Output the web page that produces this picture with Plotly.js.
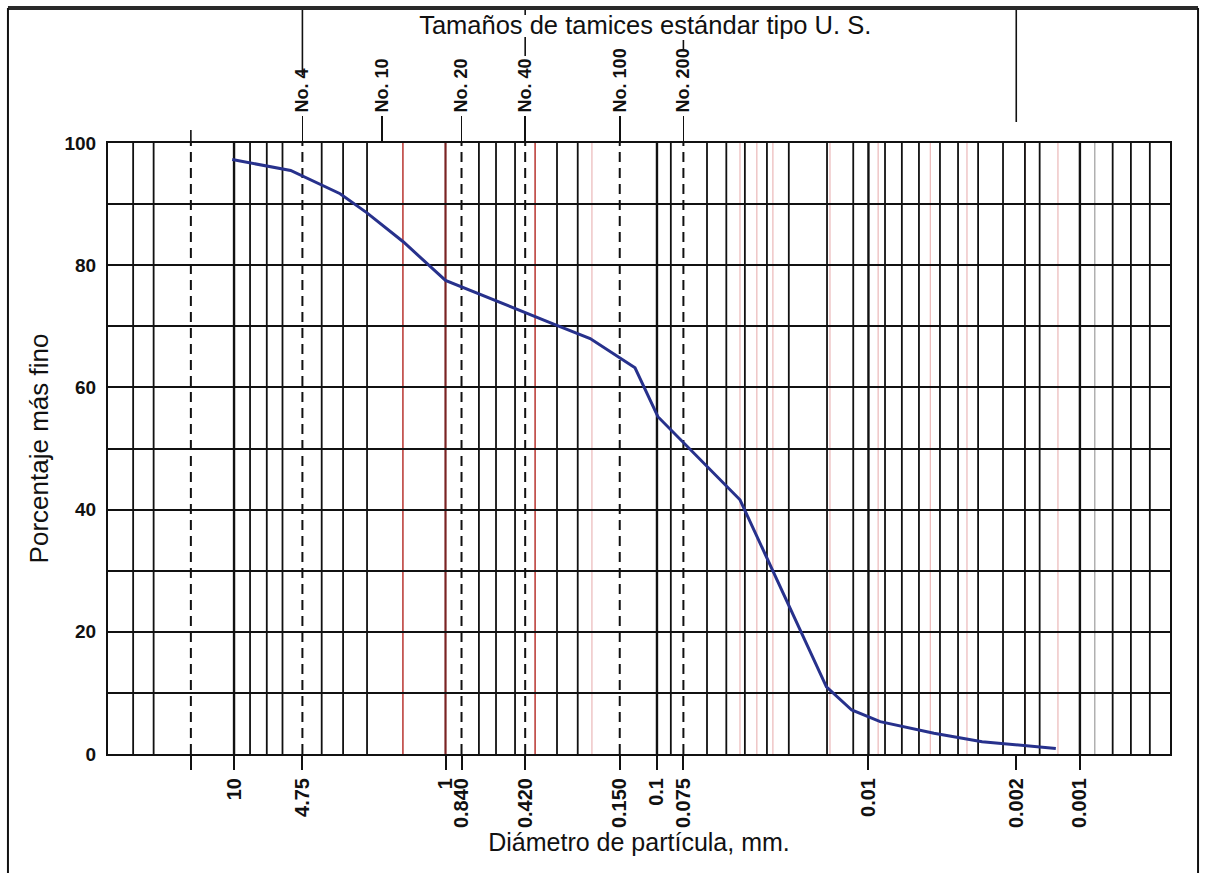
<!DOCTYPE html>
<html>
<head>
<meta charset="utf-8">
<script src="https://cdn.plot.ly/plotly-3.0.1.min.js"></script>
<style>
  html, body { margin: 0; padding: 0; background: #ffffff; }
  #chart { width: 1206px; height: 873px; }
</style>
</head>
<body>
<div id="chart"></div>
<script>
// ---- Data ----
// Particle-size distribution curve (diameter in mm, percent finer)
const diameterMm = [10.2, 5.4, 3.15, 2.36, 1.58, 1.0, 0.31, 0.207, 0.127, 0.099, 0.0405, 0.0158, 0.012, 0.0088, 0.0049, 0.0029, 0.0013];
const percentFiner = [97.3, 95.5, 91.7, 88.6, 83.8, 77.5, 70.4, 68.0, 63.2, 55.2, 41.6, 11.0, 7.2, 5.3, 3.4, 2.0, 0.9];

// Bottom axis ticks (mm)
const tickDiam = [16, 10, 4.75, 1, 0.84, 0.42, 0.15, 0.1, 0.075, 0.01, 0.002, 0.001];
const tickText = ['', '10', '4.75', '1', '0.840', '0.420', '0.150', '0.1', '0.075', '0.01', '0.002', '0.001'];

// U.S. standard sieves (top axis)
const sieveDiam = [4.75, 2.0, 0.84, 0.42, 0.15, 0.075];
const sieveNames = ['No. 4', 'No. 10', 'No. 20', 'No. 40', 'No. 100', 'No. 200'];

// Y axis
const yTickVals = [0, 10, 20, 30, 40, 50, 60, 70, 80, 90, 100];
const yTickText = ['0', '', '20', '', '40', '', '60', '', '80', '', '100'];

// Printed grid of the chart paper (mm)
const gridBlack = [30, 24, 10, 8.4, 7, 5.9, 3.85, 3.05, 2.35, 0.695, 0.577, 0.469, 0.297, 0.237, 0.1, 0.086, 0.058, 0.047, 0.0384, 0.0302, 0.0238, 0.0157, 0.0118, 0.01, 0.00835, 0.00695, 0.00577, 0.00459, 0.00377, 0.00303, 0.00231, 0.00182, 0.00155, 0.001, 0.0007, 0.000574, 0.000467];
const gridFaint = [0.00085];
const gridRed = [1.59, 0.377];
const gridDarkRed = [1.0];
const gridPink = [0.203, 0.0405, 0.0337, 0.0283, 0.0152, 0.009, 0.0051, 0.00342, 0.00181, 0.00127];
const gridDashed = [16, 4.75, 0.84, 0.42, 0.15, 0.075];

// ---- Build figure ----
const FONT = 'Liberation Sans, Arial, Helvetica, sans-serif';
const shapes = [];
function vline(d, color, width, dash) {
  shapes.push({type: 'line', xref: 'x', yref: 'paper', x0: d, x1: d, y0: 0, y1: 1,
    line: {color: color, width: width, dash: dash || 'solid'}, layer: 'below'});
}
gridPink.forEach(d => vline(d, '#e7a9aa', 1));
gridFaint.forEach(d => vline(d, '#8a8a8a', 1));
gridBlack.forEach(d => vline(d, '#111111', (d === 10 || d === 0.1 || d === 0.01 || d === 0.001) ? 2.4 : 1.8));
gridRed.forEach(d => vline(d, '#b8342f', 1.5));
gridDarkRed.forEach(d => vline(d, '#7a2424', 2.2));
gridDashed.forEach(d => vline(d, '#111111', 2, '10px,6px'));

// lines above the chart (sieve leaders), paper units
function topLine(d, y0, y1) {
  shapes.push({type: 'line', xref: 'x', yref: 'paper', x0: d, x1: d, y0: y0, y1: y1,
    line: {color: '#111111', width: 1.6}});
}
topLine(4.75, 1.111, 1.221);
topLine(0.42, 1.1424, 1.1735);
topLine(0.42, 1.2096, 1.221);
topLine(0.075, 1.152, 1.1686);
topLine(0.002, 1.0344, 1.221);
topLine(16, 1.0, 1.0213);

// page frame
shapes.push({type: 'line', xref: 'paper', yref: 'paper', x0: -0.0942, x1: 1.0264, y0: 1.221, y1: 1.221, line: {color: '#2a2a2a', width: 4}});
shapes.push({type: 'line', xref: 'paper', yref: 'paper', x0: -0.0942, x1: -0.0942, y0: -0.21, y1: 1.221, line: {color: '#111111', width: 2}});
shapes.push({type: 'line', xref: 'paper', yref: 'paper', x0: 1.0264, x1: 1.0264, y0: -0.21, y1: 1.221, line: {color: '#111111', width: 2}});

const traces = [
  {
    x: diameterMm, y: percentFiner, type: 'scatter', mode: 'lines',
    line: {color: '#27318c', width: 3},
    hoverinfo: 'x+y', showlegend: false
  },
  {
    x: [sieveDiam[0]], y: [-50], xaxis: 'x2', yaxis: 'y', type: 'scatter', mode: 'markers',
    marker: {opacity: 0}, hoverinfo: 'skip', showlegend: false
  }
];

const xRange = [1.596, -3.426];

const layout = {
  width: 1206, height: 873,
  margin: {l: 108, r: 36, t: 143, b: 119},
  paper_bgcolor: '#ffffff', plot_bgcolor: '#ffffff',
  font: {family: FONT, color: '#111111'},
  showlegend: false,
  title: {
    text: 'Tamaños de tamices estándar tipo U. S.',
    font: {family: FONT, size: 25.5, color: '#111111'},
    xref: 'container', x: 0.535, xanchor: 'center',
    yref: 'container', y: 0.971, yanchor: 'middle'
  },
  xaxis: {
    type: 'log', range: xRange, autorange: false,
    tickmode: 'array', tickvals: tickDiam, ticktext: tickText,
    tickangle: -90, ticks: 'outside', ticklen: 14, tickwidth: 2, tickcolor: '#111111',
    tickfont: {family: FONT, size: 20, color: '#111111', weight: 'bold'},
    showgrid: false, zeroline: false,
    showline: true, mirror: true, linecolor: '#111111', linewidth: 2,
    title: {text: 'Diámetro de partícula, mm.', font: {family: FONT, size: 25, color: '#111111'}, standoff: 6}
  },
  xaxis2: {
    type: 'log', range: xRange, autorange: false, overlaying: 'x', side: 'top',
    tickmode: 'array', tickvals: sieveDiam, ticktext: sieveNames,
    tickangle: -90, ticks: 'outside', ticklen: 26, tickwidth: 1.6, tickcolor: '#111111',
    tickfont: {family: FONT, size: 18, color: '#111111', weight: 'bold'},
    showgrid: false, zeroline: false, showline: false
  },
  yaxis: {
    range: [0, 100], autorange: false,
    tickmode: 'array', tickvals: yTickVals, ticktext: yTickText,
    ticks: '', ticklabelstandoff: 6,
    tickfont: {family: FONT, size: 19, color: '#111111', weight: 'bold'},
    showgrid: true, gridcolor: '#111111', gridwidth: 2,
    zeroline: false, showline: true, mirror: true, linecolor: '#111111', linewidth: 2,
    title: {text: 'Porcentaje más fino', font: {family: FONT, size: 26, color: '#111111'}, standoff: 8}
  },
  shapes: shapes
};

Plotly.newPlot('chart', traces, layout, {displayModeBar: false, staticPlot: true});
</script>
</body>
</html>
